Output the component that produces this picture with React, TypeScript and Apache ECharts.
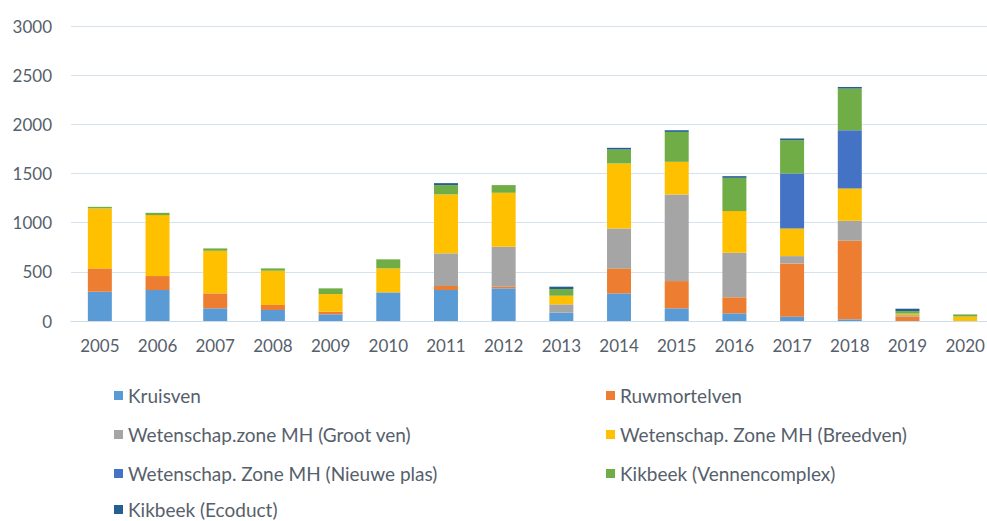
import React, { useEffect, useRef } from "react";
import * as echarts from "echarts";

const years = ["2005","2006","2007","2008","2009","2010","2011","2012","2013","2014","2015","2016","2017","2018","2019","2020"];
const kruisven = [298, 315, 129, 112, 68, 291, 315, 332, 85, 281, 129, 78, 44, 17, 0, 0];
const ruwmortelven = [237, 142, 152, 51, 27, 0, 41, 17, 0, 254, 277, 163, 542, 799, 45, 0];
const grootVen = [0, 0, 0, 0, 0, 0, 332, 406, 84, 406, 881, 453, 74, 203, 15, 0];
const breedven = [610, 620, 433, 348, 179, 244, 599, 549, 88, 661, 332, 424, 281, 329, 15, 45];
const nieuwePlas = [0, 0, 0, 0, 0, 0, 0, 0, 0, 0, 0, 0, 559, 592, 0, 0];
const vennencomplex = [16, 23, 24, 24, 58, 92, 95, 78, 68, 142, 304, 338, 339, 424, 25, 22];
const ecoduct = [0, 0, 0, 0, 0, 0, 20, 0, 24, 17, 17, 17, 17, 16, 25, 0];
const yTicks = [0, 500, 1000, 1500, 2000, 2500, 3000];

const seriesDefs = [
  { name: "Kruisven", data: kruisven, color: "#5B9BD5" },
  { name: "Ruwmortelven", data: ruwmortelven, color: "#ED7D31" },
  { name: "Wetenschap.zone MH (Groot ven)", data: grootVen, color: "#A5A5A5" },
  { name: "Wetenschap. Zone MH (Breedven)", data: breedven, color: "#FFC000" },
  { name: "Wetenschap. Zone MH (Nieuwe plas)", data: nieuwePlas, color: "#4472C4" },
  { name: "Kikbeek (Vennencomplex)", data: vennencomplex, color: "#70AD47" },
  { name: "Kikbeek (Ecoduct)", data: ecoduct, color: "#255E91" },
];

// legend placement: [series index, left, row centre y]
const legendSlots: [number, number, number][] = [
  [0, 114, 395],
  [1, 606, 395],
  [2, 114, 434],
  [3, 606, 434],
  [4, 114, 473],
  [5, 606, 473],
  [6, 114, 509],
];

const FONT = "Lato, 'Open Sans', sans-serif";
const TEXT = "#56606b";

export default function App() {
  const ref = useRef<HTMLDivElement>(null);
  useEffect(() => {
    if (!ref.current) return;
    const chart = echarts.init(ref.current, undefined, { renderer: "svg" });
    chart.setOption({
      animation: false,
      textStyle: { fontFamily: FONT },
      grid: { left: 71, top: 26, right: 0, height: 295, containLabel: false },
      legend: legendSlots.map(([idx, left, cy]) => ({
        orient: "horizontal",
        icon: "rect",
        itemWidth: 9,
        itemHeight: 9,
        padding: 0,
        selectedMode: false,
        left,
        top: cy - 9,
        data: [seriesDefs[idx].name],
        textStyle: { fontFamily: FONT, fontSize: 19, color: TEXT, lineHeight: 18 },
      })),
      xAxis: {
        type: "category",
        data: years,
        axisLine: { show: true, lineStyle: { color: "#cfdde9", width: 1 } },
        axisTick: { show: false },
        axisLabel: { color: TEXT, fontSize: 17, fontFamily: FONT, margin: 16 },
      },
      yAxis: {
        type: "value",
        min: yTicks[0],
        max: yTicks[yTicks.length - 1],
        interval: 500,
        axisLine: { show: false },
        axisTick: { show: false },
        splitLine: { lineStyle: { color: "#d6e3ee", width: 1 } },
        axisLabel: {
          color: TEXT,
          fontSize: 17,
          fontFamily: FONT,
          margin: 19,
          formatter: (v: number) => String(v),
        },
      },
      series: seriesDefs.map((s) => ({
        name: s.name,
        type: "bar",
        stack: "total",
        barWidth: 24,
        data: s.data,
        itemStyle: { color: s.color },
      })),
    });
    return () => chart.dispose();
  }, []);
  return (
    <div
      ref={ref}
      style={{ position: "fixed", left: 0, top: 0, width: 994, height: 521, background: "#fff" }}
    />
  );
}
